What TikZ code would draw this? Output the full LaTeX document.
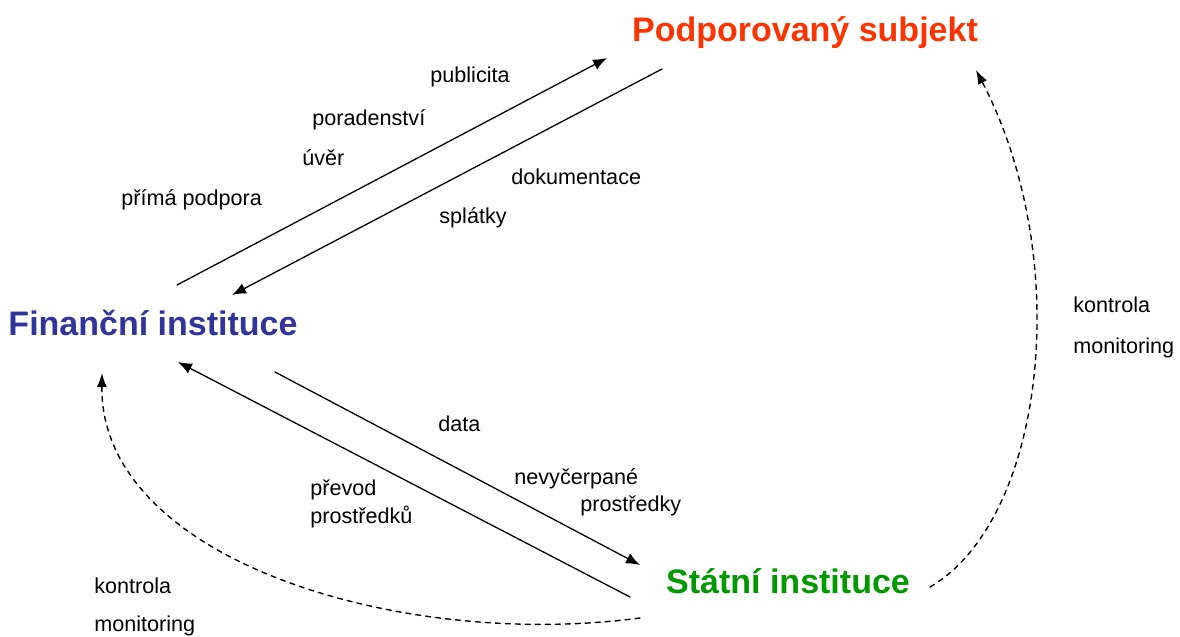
\documentclass[tikz,border=0pt]{standalone}
\usepackage{fontspec}
\setmainfont{Liberation Sans}
\usetikzlibrary{arrows.meta}

\definecolor{subjred}{HTML}{FF3300}
\definecolor{finblue}{HTML}{333399}
\definecolor{statgreen}{HTML}{009900}

\begin{document}
\begin{tikzpicture}[x=0.5pt,y=-0.5pt,
  line cap=round,
  line join=round,
  every node/.style={font=\fontsize{10.8}{12}\selectfont},
  actor/.style={font=\fontsize{17}{20}\selectfont\bfseries},
  lbl/.style={anchor=west,inner sep=0pt},
  flow/.style={line width=0.65pt,-{Latex[length=7pt,width=5.5pt]}},
  ctrl/.style={line width=0.7pt,dash pattern=on 2.5pt off 2.5pt,-{Latex[length=7pt,width=5pt]}}]

  \useasboundingbox (0,0) rectangle (1180,637);

  % aktéři
  \node[actor,text=subjred]   (PS) at (805,33)  {Podporovaný subjekt};
  \node[actor,text=finblue]   (FI) at (153,323) {Finanční instituce};
  \node[actor,text=statgreen] (SI) at (788,581) {Státní instituce};

  % konce šipek
  \coordinate (FIa) at (177,285);
  \coordinate (PSa) at (607,58);
  \coordinate (PSb) at (662,69);
  \coordinate (FIb) at (232,295);
  \coordinate (FIc) at (275,372);
  \coordinate (SIc) at (640,565);
  \coordinate (SId) at (630,597);
  \coordinate (FId) at (178,362);

  \coordinate (SIe) at (930,587);
  \coordinate (PSe) at (976,70);
  \coordinate (SIf) at (640,618);
  \coordinate (FIf) at (102,373);

  % toky
  \draw[flow] (FIa) -- (PSa);
  \draw[flow] (PSb) -- (FIb);
  \draw[flow] (FIc) -- (SIc);
  \draw[flow] (SId) -- (FId);

  % kontrola / monitoring
  \draw[ctrl] (SIe) .. controls (1045,520) and (1075,260) .. (PSe);
  \draw[ctrl] (SIf) .. controls (400,650) and (100,560) .. (FIf);

  % popisky
  \node[lbl] (l1)  at (430,77)  {publicita};
  \node[lbl] (l2)  at (312,120) {poradenství};
  \node[lbl] (l3)  at (302,158) {úvěr};
  \node[lbl] (l4)  at (121,200) {přímá podpora};
  \node[lbl] (l5)  at (511,177) {dokumentace};
  \node[lbl] (l6)  at (439,218) {splátky};

  \node[lbl] (l7)  at (1073,305) {kontrola};
  \node[lbl] (l8)  at (1073,348) {monitoring};

  \node[lbl] (l9)  at (438,424) {data};
  \node[lbl] (l10) at (514,479) {nevyčerpané};
  \node[lbl] (l11) at (580,506) {prostředky};
  \node[lbl] (l12) at (310,490) {převod};
  \node[lbl] (l13) at (310,517) {prostředků};

  \node[lbl] (l14) at (94,586)  {kontrola};
  \node[lbl] (l15) at (94,626)  {monitoring};

\end{tikzpicture}
\end{document}
